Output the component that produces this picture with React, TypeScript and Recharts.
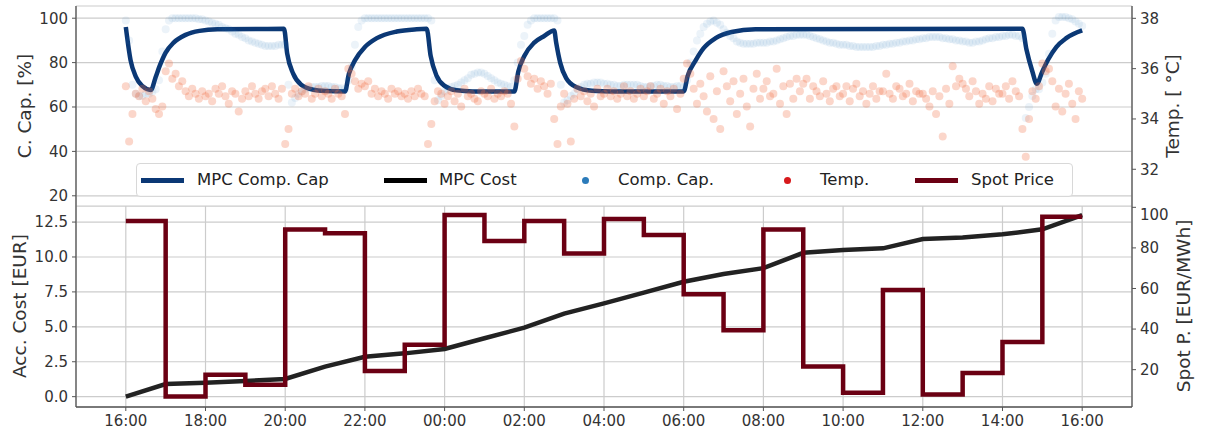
import { ComposedChart, Line, Scatter, XAxis, YAxis, CartesianGrid } from 'recharts';

const FONT = '"DejaVu Sans", sans-serif';

// x axis: hours since 16:00
const xTicks = [0, 2, 4, 6, 8, 10, 12, 14, 16, 18, 20, 22, 24];
const xTickLabels = ['16:00', '18:00', '20:00', '22:00', '00:00', '02:00', '04:00', '06:00', '08:00', '10:00', '12:00', '14:00', '16:00'];

const capTicks = [20, 40, 60, 80, 100];
const tempTicks = [32, 34, 36, 38];
const costTicks = [0, 2.5, 5, 7.5, 10, 12.5];
const spotTicks = [20, 40, 60, 80, 100];

// measured compressor capacity [%], every 5 min
const compCap = [
  99, 90, 70, 66, 65, 65, 66, 66, 67, 68, 72, 85,
  95, 99, 100, 100, 100, 100, 100, 100, 100, 100, 99.5, 99.5,
  99, 98.5, 98, 97.5, 97, 96, 95.5, 95, 94, 93, 92.5, 91.5,
  91, 90, 89.5, 89, 88.5, 88, 87.5, 87.5, 87.5, 87.5, 88, 88,
  88, 70, 62, 64, 66, 67, 68, 68.5, 69, 69, 69, 69.5,
  69.5, 69.5, 69, 69, 68.5, 68.5, 68, 72, 78, 88, 96, 99,
  100, 100, 100, 100, 100, 100, 100, 100, 100, 100, 100, 100,
  100, 100, 100, 100, 100, 100, 100, 100, 99, 72, 63, 65,
  67, 68, 69, 69.5, 70, 71, 72, 73, 74.5, 75, 75.5, 75.5,
  75, 74, 73, 72, 71, 70.5, 70, 69.5, 69, 72, 80, 88,
  92, 97, 99, 100, 100, 100, 100, 100, 100, 100, 99, 70,
  62, 63, 65, 66, 68, 69, 70, 70.5, 70.5, 71, 71, 71,
  70.5, 70.5, 70, 70, 69.5, 69.5, 70, 70, 70, 70, 70, 69.5,
  69, 69, 69.5, 69.5, 70, 70, 69.5, 69.5, 69, 69, 69.5, 69.5,
  69, 72, 80, 85, 90, 93, 96, 97.5, 98.5, 99, 98, 97,
  95, 93.5, 92, 91, 89.5, 89, 88.5, 88.5, 88.5, 88.5, 89, 89,
  89, 89, 89.5, 89.5, 90, 90.5, 91, 91.5, 92, 92, 92.5, 92.5,
  92.5, 92.5, 92, 91.5, 91, 90.5, 90, 89.5, 89, 89, 88.5, 88,
  88, 88, 87.5, 87.5, 87, 87, 87, 87, 87, 87, 87.5, 87.5,
  88, 88, 88.5, 88.5, 89, 89, 89.5, 89.5, 90, 90, 90.5, 90.5,
  91, 91, 91.5, 91.5, 91.5, 91.5, 91, 91, 90.5, 90.5, 90, 90,
  89.5, 89.5, 89, 89, 89.5, 89.5, 90, 90.5, 91, 91, 91.5, 91.5,
  92, 92, 92.5, 92.5, 92, 92, 91, 55, 60, 65, 68, 68,
  71, 75, 84, 93, 99, 100.5, 100.5, 100.5, 100, 99.5, 98.5, 97.5,
  96.5,
];

// measured temperature [°C], every 5 min
const temp = [
  35.3, 33.1, 34.2, 35.0, 34.9, 35.2, 34.7, 35.1, 34.8, 34.4, 34.2, 34.5,
  35.9, 36.2, 35.6, 35.8, 35.3, 35.5, 35.1, 34.9, 35.2, 35.0, 34.8, 35.1,
  34.9, 35.0, 34.7, 35.2, 35.0, 35.3, 34.9, 34.6, 35.1, 35.0, 34.3, 34.8,
  35.1, 34.9, 35.3, 35.0, 34.8, 35.1, 35.2, 34.9, 35.3, 35.0, 34.8, 35.2,
  33.0, 33.6, 35.0, 35.2, 34.9, 35.1, 35.0, 35.3, 34.8, 35.0, 35.2, 34.9,
  35.1, 35.0, 34.8, 35.2, 35.0, 34.9, 34.2, 36.0, 35.8, 35.5, 35.2, 35.4,
  35.3, 35.5, 35.0, 35.2, 34.9, 35.1, 35.0, 34.8, 35.2, 35.0, 35.1, 34.9,
  35.0, 34.8, 35.1, 34.9, 35.2, 35.0, 34.9, 33.0, 33.8, 34.7, 35.1, 35.0,
  34.6, 34.9, 35.1, 34.7, 35.0, 34.5, 35.2, 34.9, 35.0, 34.8, 34.7, 35.1,
  35.0, 34.9, 35.2, 34.8, 35.0, 34.9, 35.1, 35.0, 34.6, 33.7, 35.6, 36.3,
  36.0, 35.7, 35.4, 35.6, 35.2, 35.5, 35.3, 35.0, 35.4, 34.0, 33.0, 34.5,
  35.0, 34.6, 33.1, 34.8, 35.2, 34.9, 35.1, 34.7, 35.0, 34.5, 35.2, 34.9,
  35.0, 35.2, 34.9, 35.1, 34.8, 35.0, 35.3, 34.9, 35.1, 34.8, 35.0, 35.2,
  34.9, 35.1, 35.3, 34.8, 35.0, 35.2, 34.6, 35.1, 34.9, 35.2, 34.4, 35.0,
  35.6, 36.2, 35.8, 35.2, 34.6, 35.4, 34.9, 34.3, 35.7, 34.0, 35.1, 33.6,
  35.9, 35.3, 34.7, 35.5, 34.2, 35.0, 35.6, 34.5, 33.7, 35.2, 35.8, 34.8,
  35.2, 35.5, 34.9, 35.0, 36.0, 34.6, 35.3, 34.2, 35.4, 34.8, 35.6, 35.1,
  35.4, 35.6, 34.8, 35.3, 35.1, 34.9, 35.5, 35.0, 34.7, 35.2, 35.3, 34.9,
  35.0, 35.3, 34.7, 35.2, 35.4, 34.9, 35.1, 34.6, 35.0, 35.3, 34.8, 35.1,
  35.1, 35.8, 35.0, 34.8, 35.3, 35.2, 34.9, 35.0, 35.4, 34.7, 35.1, 35.0,
  35.0, 34.8, 34.5, 35.1, 34.2, 34.9, 33.3, 35.2, 34.6, 36.1, 35.3, 35.6,
  35.4, 35.2, 34.9, 35.5, 35.1, 34.6, 35.0, 34.8, 35.3, 34.7, 35.2, 35.0,
  35.0, 35.3, 34.8, 35.5, 35.1, 34.9, 33.6, 32.5, 34.0, 35.1, 34.8, 35.3,
  36.2, 35.9, 36.0, 35.5, 34.5, 35.2, 34.3, 35.0, 35.4, 34.6, 34.0, 35.1,
  34.8,
];

// MPC planned compressor capacity [%]
const mpcTimes = [0, 0.12, 0.25, 0.41, 0.63, 0.75, 0.85, 1.0, 1.2, 1.5, 1.85, 2.3, 3.97, 4.05, 4.2, 4.4, 4.7, 5.0, 5.5, 5.6, 5.75, 6.0, 6.3, 6.8, 7.3, 7.55, 7.65, 7.8, 8.0, 8.3, 8.7, 9.75, 9.85, 10.0, 10.25, 10.5, 10.75, 10.8, 10.9, 11.05, 11.3, 11.7, 12.2, 14.0, 14.1, 14.3, 14.5, 14.8, 15.2, 15.8, 22.5, 22.6, 22.75, 22.86, 23.0, 23.15, 23.35, 23.6, 24.0];
const mpcValues = [96, 81, 73.7, 69.5, 67.7, 73.5, 78.5, 84.5, 89, 92.5, 94.3, 95, 95.2, 84, 75, 70, 67.8, 67.2, 67, 75, 81, 87, 91, 94, 95, 95.2, 83, 74, 69.5, 67.5, 67, 67, 76, 83, 89, 92, 94.5, 89, 80, 73, 69, 67.3, 67, 67, 74, 81, 86.5, 91, 93.8, 95, 95.2, 86, 76, 70.5, 76, 81.5, 87, 91, 94.5];

// hourly spot price [EUR/MWh], 16:00 .. 15:00
const spotPrice = [93.2, 6.8, 17.5, 12.6, 89.1, 87.2, 19.3, 32.3, 96.2, 83.4, 93.2, 77.3, 94.2, 86.3, 57.2, 39.4, 89.1, 21.6, 8.6, 59.2, 7.8, 18.3, 33.6, 95.4];

// accumulated MPC cost [EUR], hourly 16:00 .. 16:00
const accCost = [0, 0.9, 1.0, 1.12, 1.27, 2.15, 2.86, 3.1, 3.41, 4.18, 4.94, 5.95, 6.68, 7.45, 8.23, 8.78, 9.2, 10.3, 10.5, 10.62, 11.28, 11.4, 11.62, 11.98, 13.0];

const capData = compCap.map((v, i) => ({ t: i / 12, v }));
const tempData = temp.map((v, i) => ({ t: i / 12, v }));
const mpcData = mpcTimes.map((t, i) => ({ t, v: mpcValues[i] }));
const spotData = [...spotPrice, spotPrice[spotPrice.length - 1]].map((v, i) => ({ t: i, v }));
const costData = accCost.map((v, i) => ({ t: i, v }));

const AXIS = '#555';
const GRID = '#cccccc';
const TXT = '#333';
const tickStyle = { fill: TXT, fontSize: 15, fontFamily: FONT };

const dot = (color: string, op: number) => (p: any) => (
  <circle cx={p.cx} cy={p.cy} r={4} fill={color} fillOpacity={op} />
);

const xFmt = (v: number) => xTickLabels[xTicks.indexOf(v)] ?? '';

function RotLabel({ text, x, y }: { text: string; x: number; y: number }) {
  return (
    <div
      style={{
        position: 'absolute', left: x, top: y, transform: 'translate(-50%, -50%) rotate(-90deg)',
        whiteSpace: 'nowrap', fontFamily: FONT, fontSize: 18.5, color: TXT,
      }}
    >
      {text}
    </div>
  );
}

function LegendItem({ x, kind, color, label, textX }: { x: number; kind: 'line' | 'dot'; color: string; label: string; textX: number }) {
  return (
    <>
      {kind === 'line' ? (
        <div style={{ position: 'absolute', left: x, top: 14, width: 43, height: 5, background: color }} />
      ) : (
        <div style={{ position: 'absolute', left: x - 3.5, top: 13, width: 7, height: 7, borderRadius: '50%', background: color }} />
      )}
      <div style={{ position: 'absolute', left: textX, top: 5, fontFamily: FONT, fontSize: 16.5, color: '#222', whiteSpace: 'nowrap', lineHeight: '22px' }}>
        {label}
      </div>
    </>
  );
}

export default function App() {
  return (
    <div style={{ position: 'absolute', left: 0, top: 0, width: 1206, height: 438, background: '#fff' }}>
      <div style={{ position: 'absolute', left: 0, top: 0 }}>
        <ComposedChart width={1206} height={207} margin={{ top: 6, right: 0, bottom: 1, left: 0 }}>
          <CartesianGrid stroke={GRID} strokeWidth={1.2} />
          <XAxis dataKey="t" type="number" domain={[-1.25, 25.25]} ticks={xTicks} allowDataOverflow height={0} tick={false} tickLine={false} axisLine={{ stroke: AXIS, strokeWidth: 1.3 }} />
          <XAxis xAxisId="top" orientation="top" dataKey="t" type="number" domain={[-1.25, 25.25]} height={0} tick={false} tickLine={false} axisLine={{ stroke: AXIS, strokeWidth: 1.3 }} />
          <YAxis dataKey="v" width={76} domain={[15.4, 105.5]} ticks={capTicks} allowDataOverflow tick={tickStyle} tickSize={4} tickMargin={4} tickLine={{ stroke: AXIS }} axisLine={{ stroke: AXIS, strokeWidth: 1.3 }} />
          <YAxis yAxisId="right" orientation="right" dataKey="v" width={74} domain={[30.54, 38.49]} ticks={tempTicks} allowDataOverflow tick={tickStyle} tickSize={4} tickMargin={4} tickLine={{ stroke: AXIS }} axisLine={{ stroke: AXIS, strokeWidth: 1.3 }} />
          <Scatter data={capData} dataKey="v" isAnimationActive={false} shape={dot('#2b7bba', 0.09)} />
          <Line data={mpcData} dataKey="v" type="monotone" stroke="#0b3875" strokeWidth={4.5} dot={false} isAnimationActive={false} />
          <Scatter data={tempData} dataKey="v" yAxisId="right" isAnimationActive={false} shape={dot('#ef6a40', 0.28)} />
        </ComposedChart>
      </div>
      <div style={{ position: 'absolute', left: 0, top: 206 }}>
        <ComposedChart width={1206} height={232} margin={{ top: 0, right: 0, bottom: 0, left: 0 }}>
          <CartesianGrid stroke={GRID} strokeWidth={1.2} />
          <XAxis dataKey="t" type="number" domain={[-1.25, 25.25]} ticks={xTicks} allowDataOverflow height={31} tickFormatter={xFmt} tick={tickStyle} tickSize={4} tickMargin={4} tickLine={{ stroke: AXIS }} axisLine={{ stroke: AXIS, strokeWidth: 1.3 }} />
          <XAxis xAxisId="top" orientation="top" dataKey="t" type="number" domain={[-1.25, 25.25]} height={0} tick={false} tickLine={false} axisLine={{ stroke: AXIS, strokeWidth: 1.3 }} />
          <YAxis dataKey="v" width={76} domain={[-0.74, 13.65]} ticks={costTicks} allowDataOverflow tickFormatter={(v: number) => v.toFixed(1)} tick={tickStyle} tickSize={4} tickMargin={4} tickLine={{ stroke: AXIS }} axisLine={{ stroke: AXIS, strokeWidth: 1.3 }} />
          <YAxis yAxisId="right" orientation="right" dataKey="v" width={74} domain={[1.6, 100.65]} ticks={spotTicks} allowDataOverflow tick={tickStyle} tickSize={4} tickMargin={4} tickLine={{ stroke: AXIS }} axisLine={{ stroke: AXIS, strokeWidth: 1.3 }} />
          <Line data={costData} dataKey="v" type="linear" stroke="#222" strokeWidth={4.5} dot={false} isAnimationActive={false} />
          <Line data={spotData} dataKey="v" yAxisId="right" type="stepAfter" stroke="#6b0013" strokeWidth={4.5} dot={false} isAnimationActive={false} />
        </ComposedChart>
      </div>

      <div
        style={{
          position: 'absolute', left: 136, top: 163, width: 937, height: 34, boxSizing: 'border-box',
          background: 'rgba(255,255,255,0.8)', border: '1px solid #d8d8d8', borderRadius: 4,
        }}
      >
        <LegendItem x={4} kind="line" color="#0b3875" label="MPC Comp. Cap" textX={60} />
        <LegendItem x={247} kind="line" color="#000" label="MPC Cost" textX={302} />
        <LegendItem x={448} kind="dot" color="#2b7bba" label="Comp. Cap." textX={481} />
        <LegendItem x={650} kind="dot" color="#d7191c" label="Temp." textX={683} />
        <LegendItem x={778} kind="line" color="#6b0013" label="Spot Price" textX={834} />
      </div>

      <RotLabel text="C. Cap. [%]" x={24} y={106} />
      <RotLabel text="Acc. Cost [EUR]" x={19} y={306} />
      <RotLabel text="Temp. [ °C]" x={1172} y={106} />
      <RotLabel text="Spot P. [EUR/MWh]" x={1183} y={306} />
    </div>
  );
}
